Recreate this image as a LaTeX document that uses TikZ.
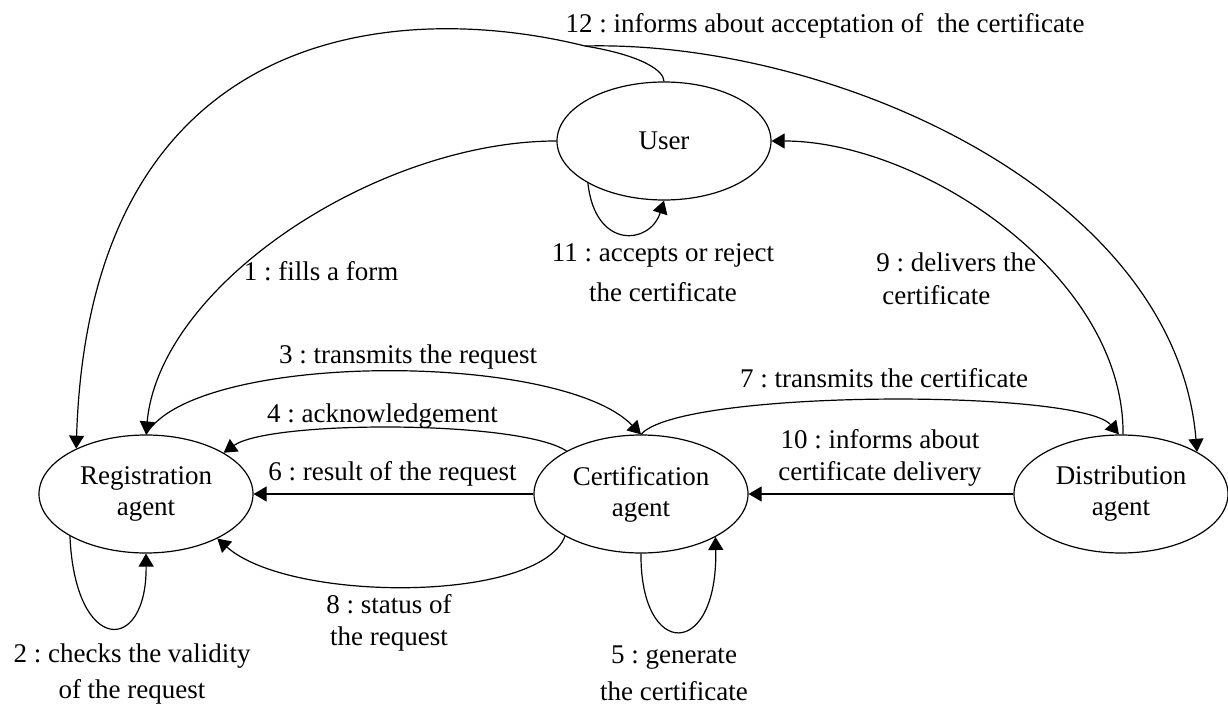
\documentclass[tikz,border=0pt]{standalone}
\usepackage{fontspec}
\setmainfont{Liberation Serif}
\usetikzlibrary{shapes.geometric,arrows.meta}
\begin{document}
\frenchspacing
\begin{tikzpicture}[x=0.5pt,y=-0.5pt,
  agent/.style={draw,ellipse,line width=0.6pt,minimum width=107pt,minimum height=59pt,
    inner sep=0pt,align=center,font=\fontsize{13.5}{15.5}\selectfont},
  lbl/.style={inner sep=0pt,align=center,font=\fontsize{13.5}{16}\selectfont},
  conn/.style={line width=0.6pt,-{Triangle[length=6.5pt,width=7.5pt]}},
  plain/.style={line width=0.6pt}]
\useasboundingbox (0,0) rectangle (1228,706);

% agents
\node[agent] (user) at (664,141) {User};
\node[agent] (reg)  at (146,494) {Registration\\agent};
\node[agent] (cert) at (641,494) {Certification\\agent};
\node[agent] (dist) at (1121,494) {Distribution\\agent};

% messages
\draw[conn] (user.west) .. controls (378,141) and (160,284) .. (reg.north);       % 1
\draw[conn] (reg.north) .. controls (195,351) and (560,351) .. (cert.north);      % 3
\draw[conn] (cert.150.4) .. controls (520,420) and (270,420) .. (reg.28.9);       % 4
\draw[conn] (cert.west) -- (reg.east);                                            % 6
\draw[conn] (cert.209.5) .. controls (540,603) and (290,603) .. (reg.-32.8);      % 8
\draw[conn] (cert.north) .. controls (680,389) and (1080,389) .. (dist.92);       % 7
\draw[conn] (dist.88) .. controls (1124,274) and (920,141) .. (user.east);        % 9
\draw[conn] (dist.west) -- (cert.east);                                           % 10

% 12: one stem from the user, forking to two receivers
\coordinate (fork) at (585,46);
\draw[plain] (user.north) .. controls (664,70) and (640,55) .. (fork);
\draw[conn] (fork) .. controls (400,0) and (90,20) .. (reg.147.8);
\draw[conn] (fork) .. controls (830,40) and (1175,190) .. (dist.29.2);

% self messages
\draw[conn] (reg.209.8) .. controls (75,655) and (147,655) .. (reg.south);        % 2
\draw[conn] (cert.south) .. controls (640,660) and (718,660) .. (cert.330.5);     % 5
\draw[conn] (user.209.2) .. controls (595,250) and (650,245) .. (user.south);     % 11

% labels
\node[lbl] (l12) at (825,26) {12 : informs about acceptation of\ \ the certificate};
\node[lbl] (l1) at (321,271) {1 : fills a form};
\node[lbl] (l11) at (663,273) {11 : accepts or reject\\[4pt]the certificate};
\node[lbl,align=left,anchor=west] (l9) at (876,278.5) {9 : delivers the\\[0.5pt]\hspace*{3pt}certificate};
\node[lbl] (l3) at (408,357) {3 : transmits the request};
\node[lbl] (l7) at (884,378) {7 : transmits the certificate};
\node[lbl] (l4) at (382.5,416) {4 : acknowledgement};
\node[lbl] (l10) at (880,458) {10 : informs about\\certificate delivery};
\node[lbl] (l6) at (392.5,474) {6 : result of the request};
\node[lbl] (l8) at (389,623) {8 : status of\\the request};
\node[lbl] (l2) at (132,674) {2 : checks the validity\\[2.3pt]of the request};
\node[lbl] (l5) at (674,673) {5 : generate\\[2.3pt]the certificate};
\end{tikzpicture}
\end{document}
